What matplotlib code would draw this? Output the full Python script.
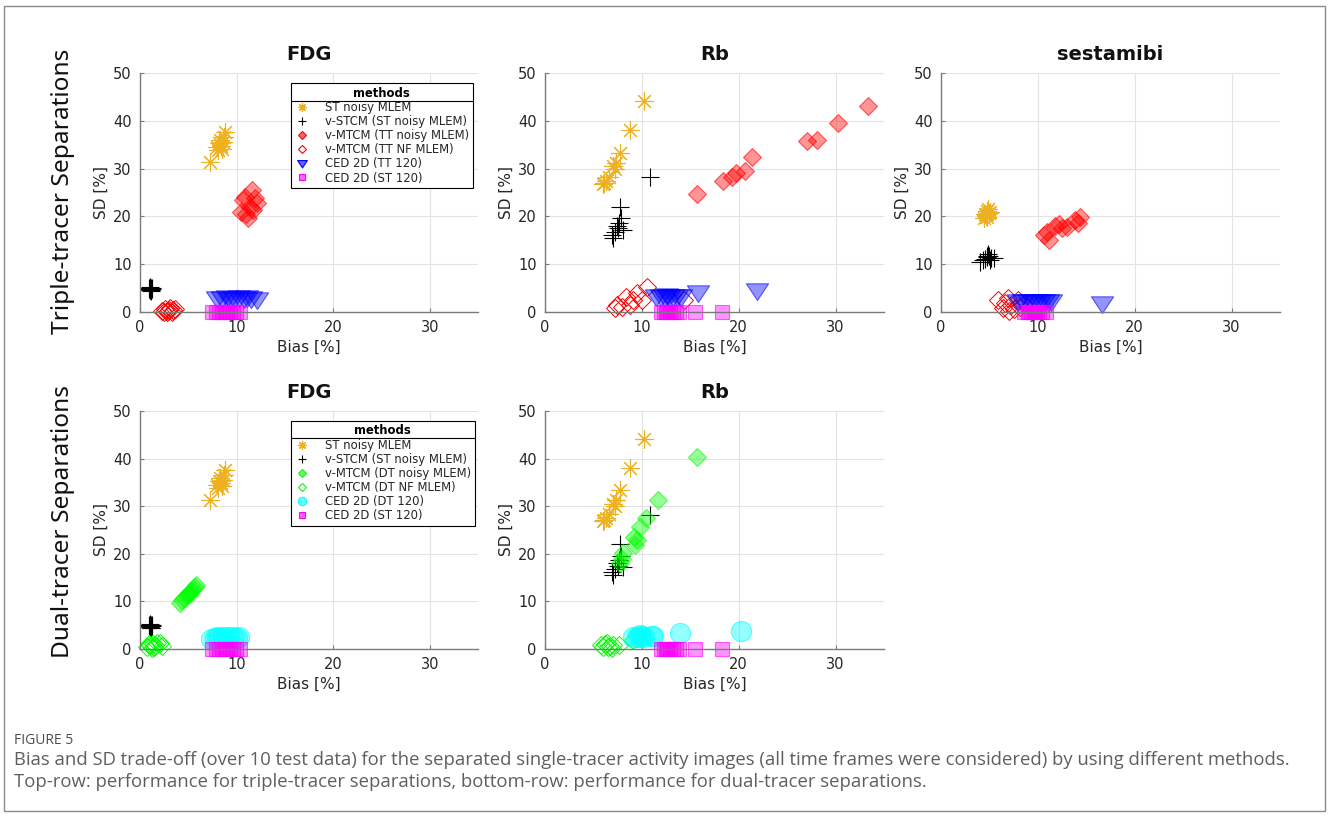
import matplotlib
matplotlib.use('Agg')
import matplotlib.pyplot as plt
from matplotlib.lines import Line2D
from matplotlib.patches import Rectangle
from matplotlib.path import Path

# ---------------- data ----------------
# Triple-tracer, FDG
tt_fdg_st_x = [7.2, 8.0, 8.2, 8.4, 8.3, 8.6, 8.8, 8.5, 8.1, 8.7]
tt_fdg_st_y = [31.3, 34.5, 35.3, 34.8, 36.0, 35.5, 37.6, 34.2, 33.8, 36.6]
tt_fdg_stcm_x = [1.0, 1.1, 1.2, 1.0, 1.1, 0.9, 1.2, 1.05, 1.15, 0.95]
tt_fdg_stcm_y = [4.6, 5.0, 4.8, 5.2, 4.4, 4.9, 5.1, 4.7, 4.5, 5.0]
tt_fdg_mtcm_x = [11.55, 10.9, 12.1, 10.5, 11.2, 11.7, 10.7, 11.4, 11.9, 11.0]
tt_fdg_mtcm_y = [25.5, 24.1, 22.7, 21.0, 19.6, 21.3, 23.4, 22.0, 23.8, 20.6]
tt_fdg_nf_x = [2.3, 2.6, 2.9, 3.1, 3.4, 2.8, 3.6, 2.5, 3.3, 3.0]
tt_fdg_nf_y = [0.3, 0.7, 0.2, 0.9, 0.4, 0.0, 0.6, 0.1, 0.1, 0.5]
tt_fdg_ced_x = [8.0, 8.5, 9.0, 9.3, 9.7, 10.2, 10.8, 11.1, 11.5, 12.1]
tt_fdg_ced_y = [3.0, 2.9, 3.1, 2.8, 3.0, 3.1, 2.9, 3.2, 3.0, 2.8]
fdg_st120_x = [7.5, 7.9, 8.2, 8.5, 8.8, 9.0, 9.3, 9.6, 9.9, 10.4]
fdg_st120_y = [0, 0, 0, 0, 0, 0, 0, 0, 0, 0]

# Triple-tracer, Rb
rb_st_x = [10.2, 8.8, 7.7, 7.3, 7.0, 7.2, 6.6, 6.3, 6.1, 6.0]
rb_st_y = [44.2, 38.1, 33.3, 31.2, 30.5, 30.0, 28.3, 27.5, 27.0, 26.8]
rb_stcm_x = [10.8, 7.7, 7.8, 7.6, 8.1, 6.9, 7.0, 7.4, 7.2, 7.5]
rb_stcm_y = [28.2, 22.0, 19.6, 18.6, 17.2, 16.2, 15.5, 18.0, 16.8, 17.5]
tt_rb_mtcm_x = [33.3, 30.2, 27.1, 28.1, 21.4, 20.6, 19.7, 19.3, 18.4, 15.7]
tt_rb_mtcm_y = [43.2, 39.5, 35.8, 36.0, 32.4, 29.4, 29.0, 28.3, 27.5, 24.7]
tt_rb_nf_x = [10.55, 9.45, 8.4, 7.4, 8.8, 7.9, 10.0, 14.4, 9.1, 7.2]
tt_rb_nf_y = [5.3, 3.9, 3.2, 1.5, 1.5, 1.1, 2.5, 2.5, 2.5, 0.8]
tt_rb_ced_x = [11.5, 12.0, 12.4, 12.8, 13.2, 13.6, 14.0, 12.6, 15.8, 21.9]
tt_rb_ced_y = [3.3, 3.4, 3.2, 3.4, 3.3, 3.3, 3.4, 3.5, 4.2, 4.7]
rb_st120_x = [12.0, 12.3, 12.6, 12.9, 13.2, 13.5, 13.8, 12.5, 15.5, 18.3]
rb_st120_y = [0, 0, 0, 0, 0, 0, 0, 0, 0, 0]

# Triple-tracer, sestamibi
ses_st_x = [4.4, 4.6, 4.8, 5.0, 4.7, 4.5, 4.9, 4.6, 4.8, 5.1]
ses_st_y = [19.6, 20.3, 21.2, 20.8, 19.9, 20.5, 21.6, 20.0, 20.6, 21.0]
ses_stcm_x = [4.0, 4.5, 4.8, 5.0, 5.2, 5.5, 4.9, 4.3, 5.1, 4.7]
ses_stcm_y = [10.5, 11.0, 11.5, 11.8, 11.3, 11.4, 12.1, 10.8, 10.9, 11.7]
ses_mtcm_x = [10.6, 11.1, 10.9, 11.8, 12.5, 12.2, 13.0, 13.8, 14.4, 14.1]
ses_mtcm_y = [16.1, 15.1, 16.8, 17.9, 17.5, 18.5, 17.8, 19.2, 19.9, 18.6]
ses_nf_x = [5.85, 6.9, 6.4, 7.2, 7.9, 8.2, 6.6, 7.5, 8.6, 7.0]
ses_nf_y = [2.5, 2.9, 0.8, 1.5, 2.5, 1.1, 1.9, 0.6, 1.7, 0.3]
ses_ced_x = [8.0, 8.5, 9.0, 9.4, 9.8, 10.2, 10.6, 11.0, 11.4, 16.6]
ses_ced_y = [2.2, 2.2, 2.3, 2.2, 2.2, 2.3, 2.2, 2.3, 2.3, 1.9]
ses_st120_x = [8.6, 9.0, 9.3, 9.6, 9.9, 10.1, 10.4, 10.8, 9.1, 9.7]
ses_st120_y = [0, 0, 0, 0, 0, 0, 0, 0, 0, 0]

# Dual-tracer, FDG
dt_fdg_mtcm_x = [4.1, 4.4, 4.6, 4.9, 5.1, 5.3, 5.5, 5.7, 5.8, 5.2]
dt_fdg_mtcm_y = [9.6, 10.2, 10.8, 11.3, 11.8, 12.2, 12.6, 13.0, 13.4, 11.5]
dt_fdg_nf_x = [0.7, 1.0, 1.3, 1.5, 1.8, 2.1, 1.2, 1.6, 2.3, 0.9]
dt_fdg_nf_y = [0.5, 0.8, 1.0, 0.4, 1.2, 1.2, 0.2, 0.9, 0.7, 1.1]
dt_fdg_ced_x = [7.4, 7.8, 8.2, 8.6, 8.9, 9.2, 9.6, 10.0, 10.3, 8.0]
dt_fdg_ced_y = [2.2, 2.4, 2.3, 2.5, 2.4, 2.6, 2.5, 2.4, 2.6, 2.6]

# Dual-tracer, Rb
dt_rb_mtcm_x = [15.7, 11.7, 10.4, 9.8, 9.2, 9.3, 8.1, 7.9, 7.7, 9.5]
dt_rb_mtcm_y = [40.4, 31.3, 27.5, 25.7, 23.6, 21.8, 20.1, 19.0, 18.0, 23.0]
dt_rb_nf_x = [5.8, 6.2, 6.5, 6.7, 7.0, 7.6, 6.4, 9.1, 6.0, 6.9]
dt_rb_nf_y = [0.8, 1.0, 0.5, 0.6, 0.9, 0.8, 1.2, 1.9, 0.4, 0.3]
dt_rb_ced_x = [9.1, 9.45, 9.8, 10.0, 11.2, 13.9, 20.2, 9.7, 10.2, 11.0]
dt_rb_ced_y = [2.6, 2.6, 2.9, 2.7, 2.7, 3.3, 3.8, 2.5, 2.6, 2.8]

panel_titles = ["FDG", "Rb", "sestamibi", "FDG", "Rb"]
row_labels = ["Triple-tracer Separations", "Dual-tracer Separations"]
tt_labels = ["ST noisy MLEM", "v-STCM (ST noisy MLEM)", "v-MTCM (TT noisy MLEM)",
             "v-MTCM (TT NF MLEM)", "CED 2D (TT 120)", "CED 2D (ST 120)"]
dt_labels = ["ST noisy MLEM", "v-STCM (ST noisy MLEM)", "v-MTCM (DT noisy MLEM)",
             "v-MTCM (DT NF MLEM)", "CED 2D (DT 120)", "CED 2D (ST 120)"]
x_ticks = [0, 10, 20, 30]
y_ticks = [0, 10, 20, 30, 40, 50]
caption_head = "FIGURE 5"
caption_text = ("Bias and SD trade-off (over 10 test data) for the separated single-tracer activity images (all time frames were considered) by using different methods.\n"
                "Top-row: performance for triple-tracer separations, bottom-row: performance for dual-tracer separations.")

# ---------------- styles ----------------
ORANGE = (0.929, 0.694, 0.125)
RED = (1, 0, 0)
BLUE = (0, 0, 1)
MAG = (1, 0, 1)
GREEN = (0, 1, 0)
CYAN = (0, 1, 1)
tri = Path([(-1, 0.6), (1, 0.6), (0, -0.9), (-1, 0.6)], closed=True)

def rgba(c, a):
    return (c[0], c[1], c[2], a)

STY = {
    'st':    dict(marker=(8, 2, 0), ms=13, mfc='none', mec=ORANGE, mew=0.8),
    'stcm':  dict(marker='+', ms=13, mfc='none', mec='black', mew=0.8),
    'tt_m':  dict(marker='D', ms=9.6, mfc=rgba(RED, 0.42), mec=rgba(RED, 0.6), mew=0.8),
    'tt_nf': dict(marker='D', ms=9.6, mfc='none', mec=RED, mew=0.7),
    'tt_c':  dict(marker=tri, ms=16, mfc=rgba(BLUE, 0.42), mec=rgba(BLUE, 0.6), mew=0.8),
    'st120': dict(marker='s', ms=10, mfc=rgba(MAG, 0.42), mec=rgba(MAG, 0.6), mew=0.8),
    'dt_m':  dict(marker='D', ms=9.6, mfc=rgba(GREEN, 0.42), mec=rgba(GREEN, 0.6), mew=0.8),
    'dt_nf': dict(marker='D', ms=9.6, mfc='none', mec=GREEN, mew=0.7),
    'dt_c':  dict(marker='o', ms=14.5, mfc=rgba(CYAN, 0.42), mec=rgba(CYAN, 0.6), mew=0.8),
}
LEG = {
    'st':    dict(marker=(8, 2, 0), ms=6, mfc='none', mec=ORANGE, mew=0.9),
    'stcm':  dict(marker='+', ms=6, mfc='none', mec='black', mew=0.8),
    'tt_m':  dict(marker='D', ms=4, mfc=rgba(RED, 0.6), mec=RED, mew=0.8),
    'tt_nf': dict(marker='D', ms=4, mfc='none', mec=RED, mew=0.8),
    'tt_c':  dict(marker=tri, ms=7, mfc=rgba(BLUE, 0.6), mec=BLUE, mew=0.8),
    'st120': dict(marker='s', ms=4.5, mfc=rgba(MAG, 0.6), mec=MAG, mew=0.8),
    'dt_m':  dict(marker='D', ms=4, mfc=rgba(GREEN, 0.6), mec=GREEN, mew=0.8),
    'dt_nf': dict(marker='D', ms=4, mfc='none', mec=GREEN, mew=0.8),
    'dt_c':  dict(marker='o', ms=6, mfc=rgba(CYAN, 0.6), mec=CYAN, mew=0.8),
}

fig = plt.figure(figsize=(13.28, 8.16), dpi=100)
W, H = 1328, 816

def ax_at(x0, x1, ytop, ybot):
    return fig.add_axes([x0 / W, 1 - ybot / H, (x1 - x0) / W, (ybot - ytop) / H])

TXT = '#262626'

def style_ax(ax, title):
    ax.set_xlim(0, 35)
    ax.set_ylim(0, 50)
    ax.set_xticks(x_ticks)
    ax.set_yticks(y_ticks)
    ax.grid(True, color='#e3e3e3', lw=0.8)
    ax.set_axisbelow(True)
    for s in ['top', 'right']:
        ax.spines[s].set_visible(False)
    for s in ['left', 'bottom']:
        ax.spines[s].set_color('#7a7a7a')
        ax.spines[s].set_linewidth(1.0)
    ax.tick_params(direction='in', length=3, color='#7a7a7a', labelsize=10.5, labelcolor=TXT, pad=6)
    ax.set_xlabel('Bias [%]', fontsize=11, color=TXT, labelpad=3)
    ax.set_ylabel('SD [%]', fontsize=11, color=TXT, labelpad=3)
    ax.set_title(title, fontsize=14, fontweight='bold', color='#111111', pad=9)

def draw(ax, series):
    for x, y, key in series:
        ax.plot(x, y, ls='none', clip_on=False, **STY[key])

def add_legend(ax, keys, labels):
    handles = [Line2D([], [], ls='none', **LEG[k]) for k in keys]
    leg = ax.legend(handles, labels, title='methods', loc='upper left',
                    bbox_to_anchor=(0.447, 0.958), fontsize=8.4, title_fontsize=8.4,
                    frameon=True, fancybox=False, edgecolor='black', framealpha=1,
                    borderpad=0.3, labelspacing=0.1, handlelength=1.2,
                    handletextpad=1.4, borderaxespad=0)
    leg.get_frame().set_linewidth(0.8)
    leg.get_title().set_fontweight('bold')
    for t in leg.get_texts():
        t.set_color(TXT)
    return leg

a1 = ax_at(140, 478, 73, 312)
a2 = ax_at(545, 884, 73, 312)
a3 = ax_at(941, 1280, 73, 312)
a4 = ax_at(140, 478, 411, 649)
a5 = ax_at(545, 884, 411, 649)

draw(a1, [(tt_fdg_st_x, tt_fdg_st_y, 'st'), (tt_fdg_stcm_x, tt_fdg_stcm_y, 'stcm'),
          (tt_fdg_mtcm_x, tt_fdg_mtcm_y, 'tt_m'), (tt_fdg_nf_x, tt_fdg_nf_y, 'tt_nf'),
          (tt_fdg_ced_x, tt_fdg_ced_y, 'tt_c'), (fdg_st120_x, fdg_st120_y, 'st120')])
draw(a2, [(rb_st_x, rb_st_y, 'st'), (rb_stcm_x, rb_stcm_y, 'stcm'),
          (tt_rb_mtcm_x, tt_rb_mtcm_y, 'tt_m'), (tt_rb_nf_x, tt_rb_nf_y, 'tt_nf'),
          (tt_rb_ced_x, tt_rb_ced_y, 'tt_c'), (rb_st120_x, rb_st120_y, 'st120')])
draw(a3, [(ses_st_x, ses_st_y, 'st'), (ses_stcm_x, ses_stcm_y, 'stcm'),
          (ses_mtcm_x, ses_mtcm_y, 'tt_m'), (ses_nf_x, ses_nf_y, 'tt_nf'),
          (ses_ced_x, ses_ced_y, 'tt_c'), (ses_st120_x, ses_st120_y, 'st120')])
draw(a4, [(tt_fdg_st_x, tt_fdg_st_y, 'st'), (tt_fdg_stcm_x, tt_fdg_stcm_y, 'stcm'),
          (dt_fdg_mtcm_x, dt_fdg_mtcm_y, 'dt_m'), (dt_fdg_nf_x, dt_fdg_nf_y, 'dt_nf'),
          (dt_fdg_ced_x, dt_fdg_ced_y, 'dt_c'), (fdg_st120_x, fdg_st120_y, 'st120')])
draw(a5, [(rb_st_x, rb_st_y, 'st'), (rb_stcm_x, rb_stcm_y, 'stcm'),
          (dt_rb_mtcm_x, dt_rb_mtcm_y, 'dt_m'), (dt_rb_nf_x, dt_rb_nf_y, 'dt_nf'),
          (dt_rb_ced_x, dt_rb_ced_y, 'dt_c'), (rb_st120_x, rb_st120_y, 'st120')])

for ax, t in zip([a1, a2, a3, a4, a5], panel_titles):
    style_ax(ax, t)

l1 = add_legend(a1, ['st', 'stcm', 'tt_m', 'tt_nf', 'tt_c', 'st120'], tt_labels)
l2 = add_legend(a4, ['st', 'stcm', 'dt_m', 'dt_nf', 'dt_c', 'st120'], dt_labels)

# row labels
fig.text(63 / W, 1 - 191 / H, row_labels[0], rotation=90, ha='center', va='center',
         fontsize=17.6, family=['Noto Sans', 'DejaVu Sans'], color='#111111')
fig.text(63 / W, 1 - 522 / H, row_labels[1], rotation=90, ha='center', va='center',
         fontsize=17.6, family=['Noto Sans', 'DejaVu Sans'], color='#111111')

# caption
fig.text(14 / W, 1 - 741 / H, caption_head, ha='left', va='center', fontsize=10,
         family=['Open Sans', 'DejaVu Sans'], color='#4d4d4d')
fig.text(14 / W, 1 - 771 / H, caption_text, ha='left', va='center', fontsize=13.35,
         family=['Open Sans', 'DejaVu Sans'], color='#5f5f5f', linespacing=1.3)

# frame around figure
fig.add_artist(Rectangle((4 / W, 1 - 811 / H), 1321 / W, 805 / H, transform=fig.transFigure,
                         fill=False, edgecolor='#8a8a8a', lw=1.0))

# separator line under legend titles
fig.canvas.draw()
inv = fig.transFigure.inverted()
for leg in [l1, l2]:
    fb = leg.get_frame().get_window_extent()
    tb = leg.get_title().get_window_extent()
    ys = tb.y0 - 1.0
    (x0, y0), (x1, y1) = inv.transform([(fb.x0, ys), (fb.x1, ys)])
    fig.add_artist(Line2D([x0, x1], [y0, y1], transform=fig.transFigure, color='black', lw=0.8))

fig.savefig('out.png', dpi=100)
